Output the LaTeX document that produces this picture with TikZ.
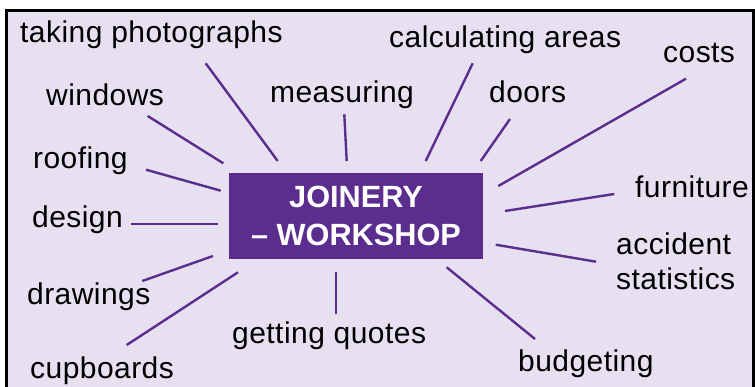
\documentclass[tikz,border=0pt]{standalone}
\usepackage{fontspec}
\setmainfont{Liberation Sans}
\newfontfamily\labfont[LetterSpace=1.5]{Liberation Sans}
\definecolor{bgl}{HTML}{E6E0F0}
\definecolor{jpurple}{HTML}{5B2D8E}
\begin{document}
\begin{tikzpicture}[x=1pt,y=-1pt,
  lab/.style={anchor=base west,inner sep=0pt,text=black,font=\labfont\fontsize{30}{34}\selectfont},
  spoke/.style={draw=jpurple,line width=2.4pt},
  hub/.style={fill=jpurple,text=white,minimum width=254pt,minimum height=86pt,inner sep=0pt,align=center,
    font=\bfseries\fontsize{30.7}{38}\selectfont}]
\useasboundingbox (0,0) rectangle (755,387);
\begin{scope}
\clip (0,0) rectangle (755,387);
\draw[fill=bgl,draw=black,line width=2.6pt] (6.5,10.5) rectangle (753.5,400);
\end{scope}
\node[hub] (hub) at (356,216) {JOINERY\\– WORKSHOP};
% labels
\node[lab] (photo) at (20,43) {taking photographs};
\node[lab] (windows) at (46,106) {windows};
\node[lab] (measuring) at (270,103) {measuring};
\node[lab] (calc) at (389,48) {calculating areas};
\node[lab] (doors) at (489,103) {doors};
\node[lab] (costs) at (663,63) {costs};
\node[lab] (roofing) at (33,169) {roofing};
\node[lab] (design) at (32,228) {design};
\node[lab] (drawings) at (27,305) {drawings};
\node[lab] (cupboards) at (30,378) {cupboards};
\node[lab] (quotes) at (232,344) {getting quotes};
\node[lab] (budget) at (518,371) {budgeting};
\node[lab] (furniture) at (635,198) {furniture};
\node[lab] (accident) at (616,255) {accident};
\node[lab] (stats) at (616,290) {statistics};
% spoke end points
\coordinate (photo-o) at (205.7,63.3);   \coordinate (photo-i) at (277.7,161);
\coordinate (windows-o) at (147.7,116);  \coordinate (windows-i) at (223.3,163.3);
\coordinate (measuring-o) at (344.3,114.3); \coordinate (measuring-i) at (346.7,161);
\coordinate (calc-o) at (472.7,63.3);    \coordinate (calc-i) at (425.7,161);
\coordinate (doors-o) at (510,119);      \coordinate (doors-i) at (480.7,161);
\coordinate (costs-o) at (686,78.7);     \coordinate (costs-i) at (498.3,186);
\coordinate (furniture-o) at (614.3,194); \coordinate (furniture-i) at (505,211);
\coordinate (accident-o) at (596,261.7); \coordinate (accident-i) at (495.7,244.7);
\coordinate (roofing-o) at (146,169.7);  \coordinate (roofing-i) at (220.7,190.7);
\coordinate (design-o) at (131,224.3);   \coordinate (design-i) at (217.7,224.3);
\coordinate (drawings-o) at (142.3,281); \coordinate (drawings-i) at (213,256);
\coordinate (cupboards-o) at (126.7,345); \coordinate (cupboards-i) at (238,272.3);
\coordinate (quotes-o) at (336,314.3);   \coordinate (quotes-i) at (336,272.3);
\coordinate (budget-o) at (535,339);     \coordinate (budget-i) at (446.7,267.3);
\foreach \n in {photo,windows,measuring,calc,doors,costs,furniture,accident,roofing,design,drawings,cupboards,quotes,budget}
  \draw[spoke] (\n-o) -- (\n-i);
\end{tikzpicture}
\end{document}
